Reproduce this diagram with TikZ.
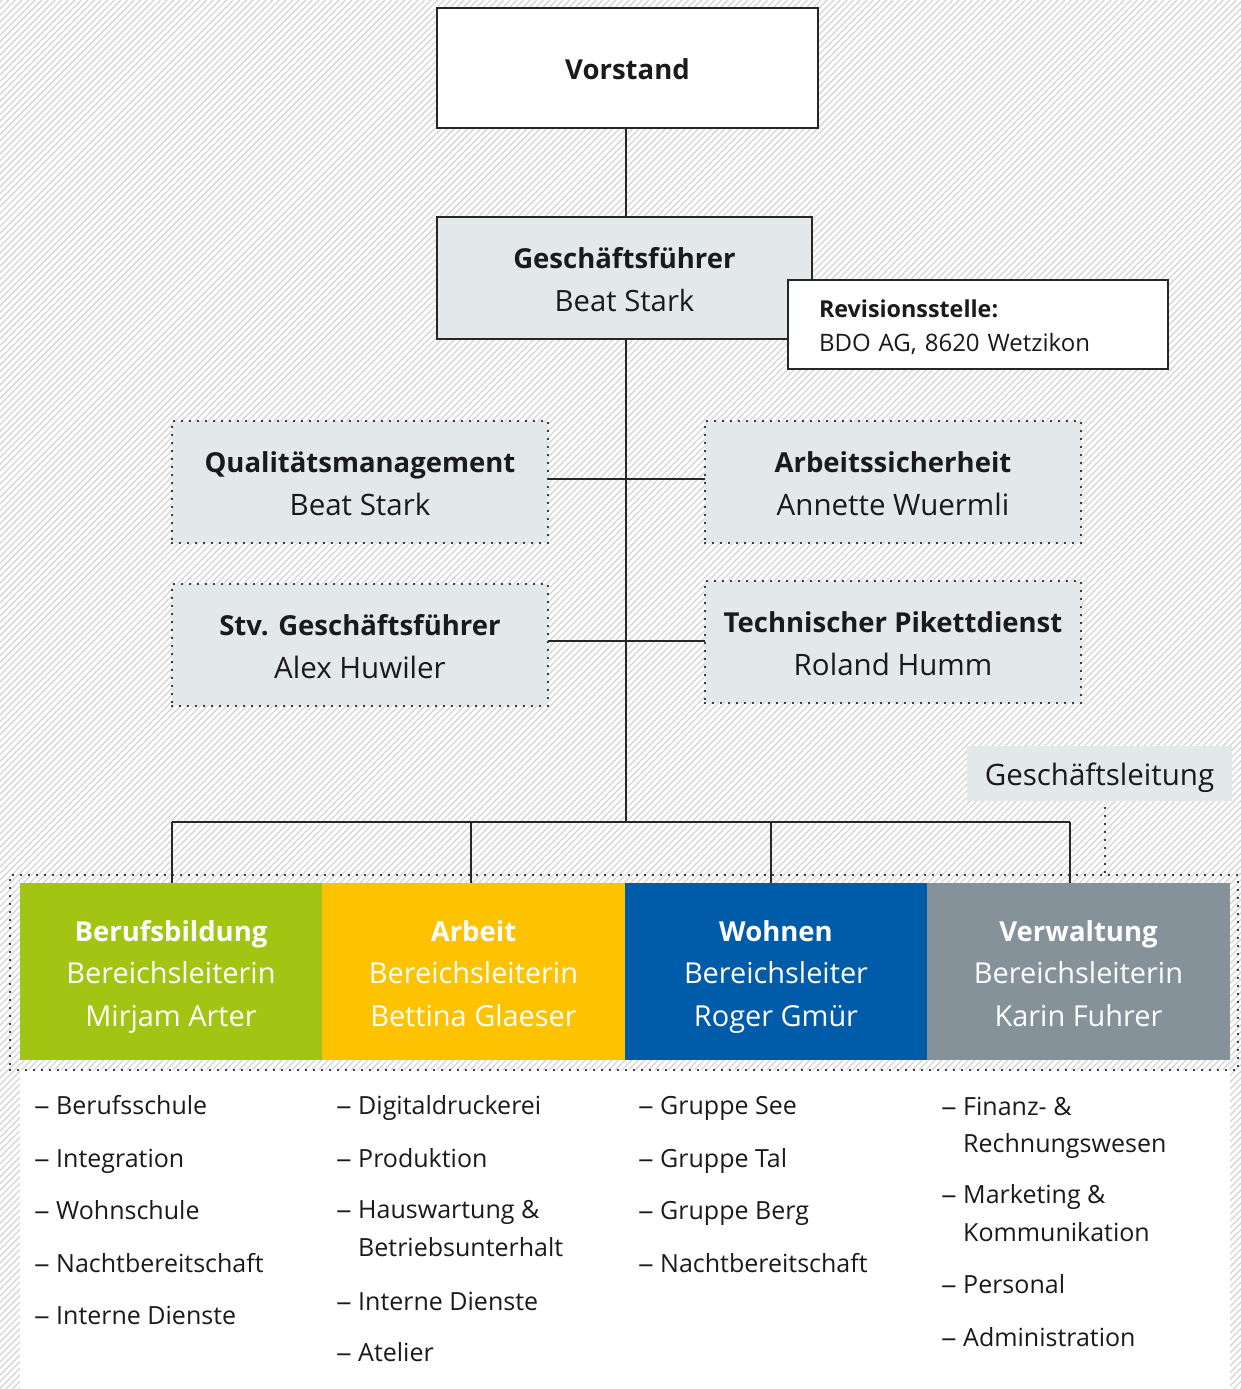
\documentclass[tikz,border=0pt]{standalone}
\usepackage{fontspec}
\usepackage{graphicx}
\setmainfont{Open Sans}
\definecolor{boxgrey}{HTML}{E3E8EB}
\definecolor{cgreen}{HTML}{A2C514}
\definecolor{cyellow}{HTML}{FDC300}
\definecolor{cblue}{HTML}{005CA9}
\definecolor{cgrey}{HTML}{85929A}
\definecolor{linec}{HTML}{262626}
\definecolor{hatchc}{HTML}{D9D9D9}
\definecolor{textc}{HTML}{1A1A1A}
\newcommand\ttl[1]{{\fontsize{27.5}{42.5}\selectfont\bfseries #1}}
\newcommand\topstr[1]{\rule{0pt}{#1pt}}
\newcommand\botstr[1]{\rule[-#1pt]{0pt}{0pt}}
\tikzset{
  hatch/.style={draw=hatchc, line width=1.5pt},
  conn/.style={draw=linec, line width=1.5pt},
  solidbox/.style={draw=linec, line width=1.5pt, inner sep=0pt, outer sep=0pt, align=center, text=textc,
    font=\fontsize{29.3}{42.5}\selectfont},
  dotbox/.style={fill=boxgrey, draw=black, line width=2.4pt, line cap=round, dash pattern=on 0pt off 8pt,
    inner sep=0pt, outer sep=0pt, align=center, text=textc, minimum width=376pt, minimum height=122pt,
    font=\fontsize{29.5}{42.5}\selectfont},
  dotline/.style={draw=black, line width=2.4pt, line cap=round, dash pattern=on 0pt off 8pt},
  areabox/.style={fill=#1, inner sep=0pt, outer sep=0pt, minimum width=303pt, minimum height=177pt,
    text=white, align=center, font=\fontsize{28.9}{42.5}\selectfont},
  litem/.style={anchor=base west, inner sep=0pt, text=textc, font=\fontsize{25}{30}\selectfont},
  ldash/.style={anchor=base east, inner sep=0pt, text=textc, font=\fontsize{25}{30}\selectfont},
}
\newcommand\lentry[4]{%
  \node[litem] (#1) at (#2,#3) {#4};
  \node[ldash] (#1d) at ([xshift=-6pt]#1.base west) {\scalebox{1.25}[1]{–}};}
\newcommand\lcont[4]{\node[litem] (#1) at (#2,#3) {#4};}
\begin{document}
\begin{tikzpicture}[x=1pt,y=-1pt]
\useasboundingbox (0,0) rectangle (1241,1389);
% hatched background
\begin{scope}
  \clip (0,0) rectangle (1241,1389);
  \foreach \i in {0,...,420} \draw[hatch] ({\i*6.6-1400},1389) -- ({\i*6.6-11},0);
\end{scope}
\fill[white] (20,1070) rectangle (1230,1389);

% top boxes
\node[solidbox, fill=white, minimum width=381pt, minimum height=120pt] (vorstand) at (627.5,68) {\topstr{29}\ttl{Vorstand}\botstr{7}};
\node[solidbox, fill=boxgrey, minimum width=375pt, minimum height=122pt] (gf) at (624.5,278) {\topstr{31}\ttl{Geschäftsführer}\\Beat Stark\botstr{7}};
\node[solidbox, fill=white, minimum width=380pt, minimum height=89pt, text width=318pt, inner xsep=31pt, align=left,
  font=\fontsize{24}{34}\selectfont] (rev) at (978,324.5) {\topstr{26}{\fontsize{23.3}{34}\selectfont\bfseries Revisionsstelle:}\\BDO AG, 8620 Wetzikon\botstr{6}};

% staff boxes
\node[dotbox] (qm) at (360,482) {\topstr{31}\ttl{Qualitätsmanagement}\\Beat Stark\botstr{7}};
\node[dotbox] (as) at (893,482) {\topstr{31}\ttl{Arbeitssicherheit}\\Annette Wuermli\botstr{7}};
\node[dotbox] (stv) at (360,645) {\topstr{31}\ttl{Stv. Geschäftsführer}\\Alex Huwiler\botstr{7}};
\node[dotbox] (tp) at (893,642) {\topstr{31}\ttl{Technischer Pikettdienst}\\Roland Humm\botstr{7}};

% Geschaeftsleitung label
\node[fill=boxgrey, inner sep=0pt, minimum width=265pt, minimum height=55pt, text=textc,
  text height=26pt, text depth=2pt,
  font=\fontsize{29.5}{34}\selectfont] (gllabel) at (1099.5,773.5) {Geschäftsleitung};

% frame
\node[dotline, inner sep=0pt, outer sep=0pt, minimum width=1228pt, minimum height=195pt] (glframe) at (624,972.5) {};

% area boxes
\node[areabox=cgreen] (ber) at (171,971.5) {\topstr{31}\ttl{Berufsbildung}\\Bereichsleiterin\\Mirjam Arter\botstr{7}};
\node[areabox=cyellow] (arb) at (473.5,971.5) {\topstr{31}\ttl{Arbeit}\\Bereichsleiterin\\Bettina Glaeser\botstr{7}};
\node[areabox=cblue] (woh) at (776,971.5) {\topstr{31}\ttl{Wohnen}\\Bereichsleiter\\Roger Gmür\botstr{7}};
\node[areabox=cgrey] (ver) at (1078.5,971.5) {\topstr{31}\ttl{Verwaltung}\\Bereichsleiterin\\Karin Fuhrer\botstr{7}};

% connectors
\coordinate (spine) at (626,822);
\coordinate (d1) at (172,822);
\coordinate (d2) at (471,822);
\coordinate (d3) at (771,822);
\coordinate (d4) at (1070,822);
\draw[conn] (vorstand.south -| spine) -- (gf.north -| spine);
\draw[conn] (gf.south -| spine) -- (spine);
\draw[conn] (qm.east |- 0,479) -- (as.west |- 0,479);
\draw[conn] (stv.east |- 0,641) -- (tp.west |- 0,641);
\draw[conn] (d1) -- (d4);
\draw[conn] (d1) -- (d1 |- ber.north);
\draw[conn] (d2) -- (d2 |- arb.north);
\draw[conn] (d3) -- (d3 |- woh.north);
\draw[conn] (d4) -- (d4 |- ver.north);
\coordinate (glx) at (1105,808);
\draw[dotline] (glx) -- (glx |- glframe.north);

% lists
\lentry{a1}{56}{1114}{Berufsschule}
\lentry{a2}{56}{1167}{Integration}
\lentry{a3}{56}{1219}{Wohnschule}
\lentry{a4}{56}{1272}{Nachtbereitschaft}
\lentry{a5}{56}{1324}{Interne Dienste}

\lentry{b1}{358}{1114}{Digitaldruckerei}
\lentry{b2}{358}{1167}{Produktion}
\lentry{b3}{358}{1218}{Hauswartung \&}
\lcont{b3c}{358}{1256}{Betriebsunterhalt}
\lentry{b4}{358}{1310}{Interne Dienste}
\lentry{b5}{358}{1361}{Atelier}

\lentry{c1}{660}{1114}{Gruppe See}
\lentry{c2}{660}{1167}{Gruppe Tal}
\lentry{c3}{660}{1219}{Gruppe Berg}
\lentry{c4}{660}{1272}{Nachtbereitschaft}

\lentry{e1}{963}{1115}{Finanz- \&}
\lcont{e1c}{963}{1152}{Rechnungswesen}
\lentry{e2}{963}{1203}{Marketing \&}
\lcont{e2c}{963}{1241}{Kommunikation}
\lentry{e3}{963}{1293}{Personal}
\lentry{e4}{963}{1346}{Administration}
\end{tikzpicture}
\end{document}
